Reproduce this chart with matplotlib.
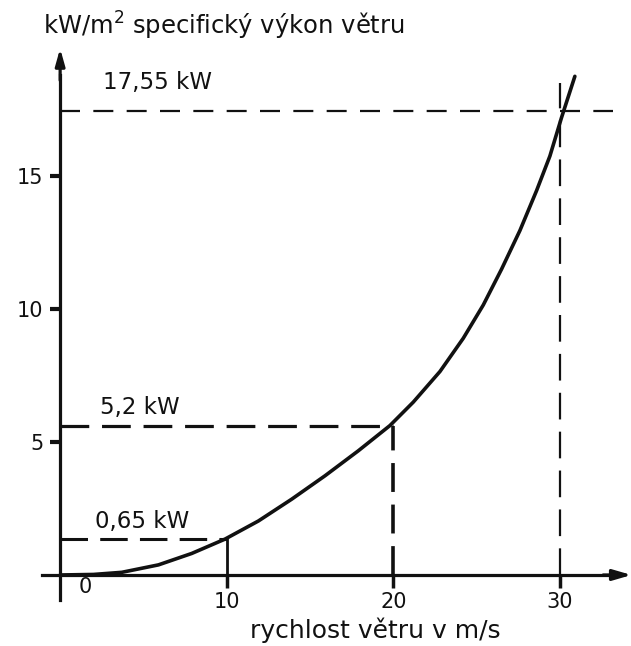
import matplotlib
matplotlib.use("Agg")
import matplotlib.pyplot as plt

# curve: wind speed (m/s) -> specific power (kW/m2)
wind_speed = [0, 2.0, 3.7, 5.9, 7.9, 9.9, 11.9, 13.9, 15.9, 17.9, 19.8,
              21.2, 22.8, 24.2, 25.4, 26.5, 27.6, 28.6, 29.4, 30.1, 30.9]
power = [0, 0.02, 0.1, 0.38, 0.81, 1.35, 2.03, 2.85, 3.73, 4.67, 5.62,
         6.5, 7.65, 8.9, 10.15, 11.5, 12.95, 14.45, 15.75, 17.2, 18.75]

# marked points (x, drawn height) and their labels
mark_x = [10, 20, 30]
mark_y = [1.35, 5.6, 17.45]
mark_labels = ["0,65 kW", "5,2 kW", "17,55 kW"]

y_ticks = [5, 10, 15]
y_tick_labels = ["5", "10", "15"]
x_ticks = [10, 20, 30]
x_tick_labels = ["10", "20", "30"]

title = "kW/m$^2$ specifický výkon větru"
xlabel = "rychlost větru v m/s"

ink = "#111111"

fig = plt.figure(figsize=(6.31, 6.46), dpi=100)
ax = fig.add_axes([0, 0, 1, 1])
ax.set_xlim(-3.61, 34.27)
ax.set_ylim(-2.67, 21.62)

for side in ["top", "right"]:
    ax.spines[side].set_visible(False)
ax.spines["left"].set_position(("data", 0))
ax.spines["bottom"].set_position(("data", 0))
ax.spines["left"].set_bounds(-0.95, 18.8)
ax.spines["bottom"].set_bounds(-1.1, 33.0)
for side in ["left", "bottom"]:
    ax.spines[side].set_linewidth(2.3)
    ax.spines[side].set_color(ink)

# arrow heads
ax.annotate("", xy=(0, 19.8), xytext=(0, 18.6), annotation_clip=False,
            arrowprops=dict(arrowstyle="-|>,head_length=1.0,head_width=0.28",
                            color=ink, lw=2.3, shrinkA=0, shrinkB=0))
ax.annotate("", xy=(34.3, 0), xytext=(32.6, 0), annotation_clip=False,
            arrowprops=dict(arrowstyle="-|>,head_length=1.1,head_width=0.32",
                            color=ink, lw=2.3, shrinkA=0, shrinkB=0))

ax.set_yticks(y_ticks)
ax.set_yticklabels(y_tick_labels)
ax.set_xticks(x_ticks)
ax.set_xticklabels(x_tick_labels)
ax.tick_params(axis="y", length=7, width=3, pad=5, labelsize=15, colors=ink)
ax.tick_params(axis="x", length=9, width=2.5, pad=3, labelsize=15, colors=ink)
ax.text(1.5, -0.45, "0", fontsize=15, ha="center", va="center", color=ink)

# power curve
ax.plot(wind_speed, power, color=ink, lw=2.6, solid_capstyle="round",
        solid_joinstyle="round")

# guide lines
ax.plot([0, mark_x[0]], [mark_y[0], mark_y[0]], color=ink, lw=2.2, ls=(0, (9, 4)))
ax.plot([mark_x[0], mark_x[0]], [0, mark_y[0]], color=ink, lw=2.0)
ax.plot([0, mark_x[1]], [mark_y[1], mark_y[1]], color=ink, lw=2.3, ls=(0, (9, 4)))
ax.plot([mark_x[1], mark_x[1]], [0, mark_y[1]], color=ink, lw=2.6, ls=(0, (8, 3.5)))
ax.plot([0, 33.2], [mark_y[2], mark_y[2]], color=ink, lw=1.6, ls=(0, (9, 6)))
ax.plot([mark_x[2], mark_x[2]], [0, 18.5], color=ink, lw=1.6, ls=(0, (12, 5.5)))

label_pos = [(2.1, 2.03), (2.4, 6.3), (2.57, 18.5)]
for (lx, ly), lab in zip(label_pos, mark_labels):
    ax.text(lx, ly, lab, fontsize=16.5, ha="left", va="center", color=ink)

ax.text(-1.03, 20.64, title, fontsize=17.5, ha="left", va="center", color=ink)
ax.text(18.9, -2.07, xlabel, fontsize=18, ha="center", va="center", color=ink)

fig.savefig("out.png", dpi=100)
